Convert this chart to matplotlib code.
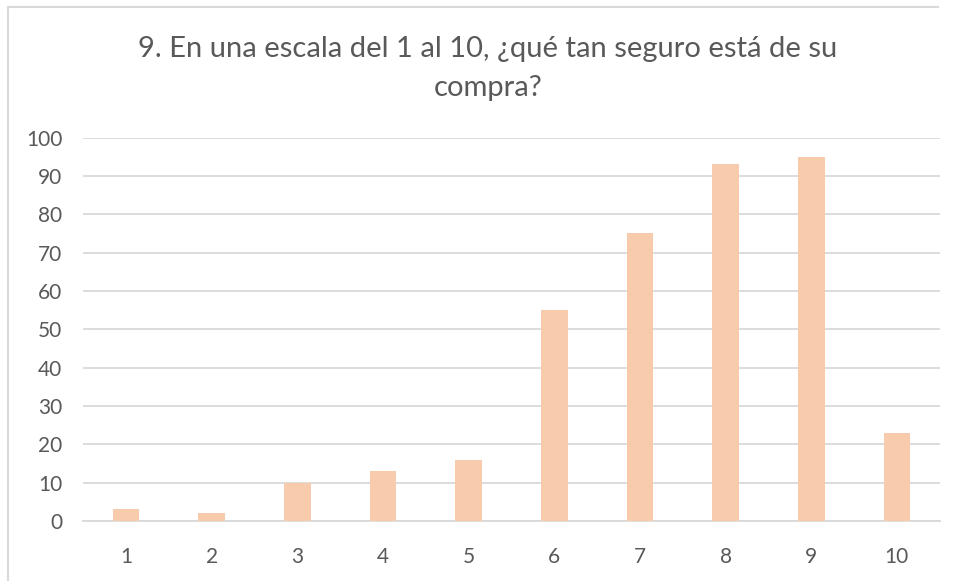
import matplotlib.pyplot as plt
from matplotlib.lines import Line2D

categories = ['1', '2', '3', '4', '5', '6', '7', '8', '9', '10']
values = [3, 2, 10, 13, 16, 55, 75, 93, 95, 23]
title = '9. En una escala del 1 al 10, ¿qué tan seguro está de su\ncompra?'

text_color = '#595959'
bar_color = '#f8cbad'
grid_color = '#d9d9d9'

plt.rcParams['font.family'] = ['Lato', 'DejaVu Sans']

fig = plt.figure(figsize=(9.55, 5.81), dpi=100)
ax = fig.add_axes([0.087, 0.1033, 0.897, 0.66])

x = range(len(categories))
ax.bar(x, values, width=0.31, color=bar_color, zorder=3)

ax.set_xlim(-0.5, len(categories) - 0.5)
ax.set_ylim(0, 100)
ax.set_yticks(range(0, 101, 10))
ax.set_xticks(list(x))
ax.set_xticklabels(categories)
ax.yaxis.grid(True, color=grid_color, linewidth=1.3, zorder=0)
for s in ['top', 'right', 'left']:
    ax.spines[s].set_visible(False)
ax.spines['bottom'].set_color(grid_color)
ax.spines['bottom'].set_linewidth(1.3)
ax.tick_params(length=0, labelsize=15, colors=text_color)
ax.tick_params(axis='x', pad=19)
ax.tick_params(axis='y', pad=15)

fig.text(0.511, 0.882, title, ha='center', va='center', fontsize=21,
         color=text_color, linespacing=1.58)

# chart frame (only left and top edges show in the screenshot)
fx0, fx1, fy = 8 / 955, 938 / 955, 1 - 7 / 581
fig.add_artist(Line2D([fx0, fx1], [fy, fy], color=grid_color, lw=1.5,
                      transform=fig.transFigure))
fig.add_artist(Line2D([fx0, fx0], [0, fy], color=grid_color, lw=1.5,
                      transform=fig.transFigure))

fig.savefig('out.png', dpi=100)
